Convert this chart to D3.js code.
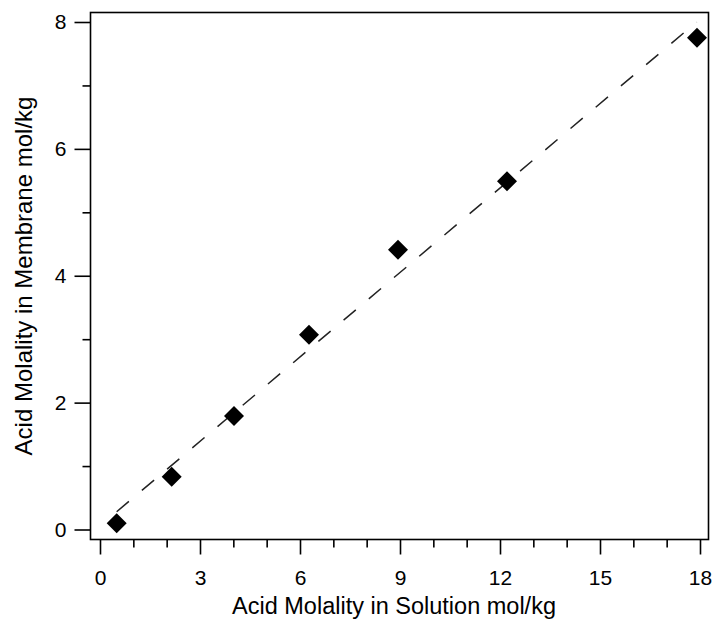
<!DOCTYPE html>
<html>
<head>
<meta charset="utf-8">
<script src="https://cdn.jsdelivr.net/npm/d3@7/dist/d3.min.js"></script>
<style>
  html, body { margin: 0; padding: 0; background: #fff; }
  svg { display: block; }
  text { font-family: "Liberation Sans", Arial, sans-serif; fill: #000; }
</style>
</head>
<body>
<svg id="chart" width="714" height="619"></svg>
<script>
// ---- data ----
const solutionMolality = [0.5, 2.15, 4.02, 6.27, 8.94, 12.21, 17.91];
const membraneMolality = [0.10, 0.83, 1.79, 3.07, 4.41, 5.49, 7.75];
const fitX = [0.5, 17.9];
const fitY = [0.28, 8.0];
const xMajorTicks = [0, 3, 6, 9, 12, 15, 18];
const xMinorTicks = [1, 2, 4, 5, 7, 8, 10, 11, 13, 14, 16, 17];
const yMajorTicks = [0, 2, 4, 6, 8];
const yMinorTicks = [1, 3, 5, 7];
const xTitle = "Acid Molality in Solution mol/kg";
const yTitle = "Acid Molality in Membrane mol/kg";

// ---- layout ----
const frame = { left: 90.5, right: 708.5, top: 12.5, bottom: 539.5 };
const svg = d3.select("#chart");

const x = d3.scaleLinear().domain([0, 18]).range([100, 700]);
const y = d3.scaleLinear().domain([0, 8]).range([529.5, 22]);

// frame
svg.append("rect")
  .attr("x", frame.left).attr("y", frame.top)
  .attr("width", frame.right - frame.left)
  .attr("height", frame.bottom - frame.top)
  .attr("fill", "none").attr("stroke", "#000").attr("stroke-width", 1.6);

// x axis major
const gx = svg.append("g").attr("transform", `translate(0,${frame.bottom})`)
  .call(d3.axisBottom(x).tickValues(xMajorTicks).tickSize(15).tickSizeOuter(0).tickPadding(16).tickFormat(d3.format("d")));
const gxm = svg.append("g").attr("transform", `translate(0,${frame.bottom})`)
  .call(d3.axisBottom(x).tickValues(xMinorTicks).tickSize(8).tickSizeOuter(0).tickFormat(""));

// y axis major
const gy = svg.append("g").attr("transform", `translate(${frame.left},0)`)
  .call(d3.axisLeft(y).tickValues(yMajorTicks).tickSize(16).tickSizeOuter(0).tickPadding(8).tickFormat(d3.format("d")));
const gym = svg.append("g").attr("transform", `translate(${frame.left},0)`)
  .call(d3.axisLeft(y).tickValues(yMinorTicks).tickSize(8).tickSizeOuter(0).tickFormat(""));

[gx, gxm, gy, gym].forEach(g => {
  g.select(".domain").remove();
  g.selectAll(".tick line").attr("stroke", "#000").attr("stroke-width", 1.6);
  g.selectAll(".tick text").style("font-size", "21px").attr("fill", "#000");
});

// dashed fit line
svg.append("path")
  .datum(fitX.map((d, i) => [d, fitY[i]]))
  .attr("d", d3.line().x(d => x(d[0])).y(d => y(d[1])))
  .attr("fill", "none")
  .attr("stroke", "#222")
  .attr("stroke-width", 1.5)
  .attr("stroke-dasharray", "16,17");

// diamonds
const sym = d3.symbol().type(d3.symbolSquare).size(200);
svg.append("g").selectAll("path")
  .data(solutionMolality.map((d, i) => [d, membraneMolality[i]]))
  .join("path")
  .attr("d", sym)
  .attr("transform", d => `translate(${x(d[0])},${y(d[1])}) rotate(45)`)
  .attr("fill", "#000");

// titles
svg.append("text")
  .attr("x", 394).attr("y", 614)
  .attr("text-anchor", "middle")
  .style("font-size", "23.5px")
  .text(xTitle);

svg.append("text")
  .attr("transform", `translate(32,${(frame.top + frame.bottom) / 2}) rotate(-90)`)
  .attr("text-anchor", "middle")
  .style("font-size", "24px")
  .text(yTitle);
</script>
</body>
</html>
